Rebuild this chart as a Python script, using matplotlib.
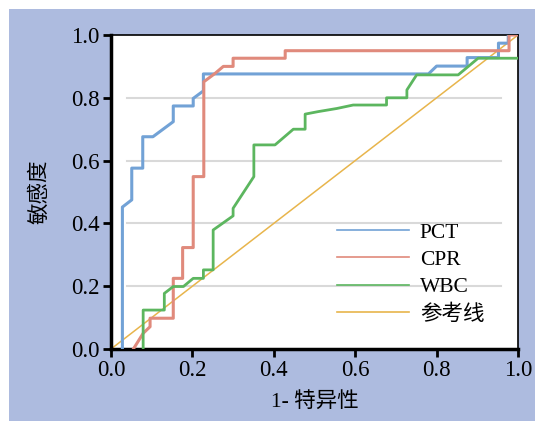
import matplotlib
matplotlib.use('Agg')
import matplotlib.pyplot as plt
from matplotlib.patches import Rectangle

plt.rcParams['font.family'] = ['Liberation Serif', 'Noto Sans CJK SC', 'DejaVu Sans']

# ROC curves (1-specificity, sensitivity)
pct_x = [0.028, 0.028, 0.051, 0.051, 0.078, 0.078, 0.103, 0.153, 0.153, 0.202, 0.202,
         0.227, 0.227, 0.78, 0.80, 0.875, 0.875, 0.952, 0.952, 0.976, 0.976]
pct_y = [0.0, 0.452, 0.475, 0.576, 0.576, 0.676, 0.676, 0.724, 0.774, 0.774, 0.798,
         0.822, 0.876, 0.876, 0.901, 0.901, 0.928, 0.928, 0.974, 0.974, 1.0]

cpr_x = [0.055, 0.079, 0.096, 0.096, 0.153, 0.153, 0.176, 0.176, 0.202, 0.202, 0.228,
         0.228, 0.256, 0.276, 0.30, 0.30, 0.428, 0.428, 0.978, 0.978, 1.0]
cpr_y = [0.0, 0.05, 0.071, 0.098, 0.098, 0.225, 0.225, 0.323, 0.323, 0.549, 0.549,
         0.851, 0.878, 0.90, 0.90, 0.926, 0.926, 0.95, 0.95, 1.0, 1.0]

wbc_x = [0.079, 0.079, 0.131, 0.131, 0.153, 0.178, 0.202, 0.227, 0.227, 0.251, 0.251,
         0.30, 0.30, 0.351, 0.351, 0.403, 0.448, 0.477, 0.477, 0.509, 0.555, 0.595,
         0.677, 0.677, 0.727, 0.727, 0.751, 0.853, 0.878, 0.902, 1.0]
wbc_y = [0.0, 0.124, 0.124, 0.177, 0.199, 0.199, 0.225, 0.225, 0.252, 0.252, 0.379,
         0.424, 0.448, 0.549, 0.65, 0.65, 0.70, 0.70, 0.748, 0.756, 0.766, 0.777,
         0.777, 0.80, 0.80, 0.825, 0.873, 0.873, 0.90, 0.926, 0.926]

ref_x = [0.0, 1.0]
ref_y = [0.0, 1.0]

ticks = [0.0, 0.2, 0.4, 0.6, 0.8, 1.0]
tick_labels = ['0.0', '0.2', '0.4', '0.6', '0.8', '1.0']

fig = plt.figure(figsize=(5.35, 4.21), dpi=100, facecolor='white')
bg = Rectangle((9 / 535, 0), 1, 1 - 9 / 421, transform=fig.transFigure,
               facecolor='#adbbdf', edgecolor='none', zorder=-10)
fig.add_artist(bg)

ax = fig.add_axes([111 / 535, 72 / 421, 407 / 535, 314 / 421])
ax.set_zorder(5)
ax.set_facecolor('white')

for g in [0.2, 0.4, 0.6, 0.8]:
    ax.plot([0.039, 0.958], [g, g], color='#d9d9d9', lw=1.5, zorder=1)

ax.plot(pct_x, pct_y, color='#72a2d6', lw=2.2, zorder=3)
ax.plot(cpr_x, cpr_y, color='#e08a7c', lw=2.2, zorder=3)
ax.plot(wbc_x, wbc_y, color='#5cb65f', lw=2.0, zorder=3)
ax.plot(ref_x, ref_y, color='#e8b54c', lw=1.1, zorder=2)

# legend handles (thin lines)
h1, = ax.plot([], [], color='#72a2d6', lw=1.2, label='PCT')
h2, = ax.plot([], [], color='#e08a7c', lw=1.2, label='CPR')
h3, = ax.plot([], [], color='#5cb65f', lw=1.2, label='WBC')
h4, = ax.plot([], [], color='#e8b54c', lw=1.2, label='参考线')
ax.legend(handles=[h1, h2, h3, h4], loc='center left', bbox_to_anchor=(0.555, 0.24),
          frameon=False, fontsize=15.5, handlelength=3.35, labelspacing=0.33,
          handletextpad=0.5, borderaxespad=0, borderpad=0)

ax.set_xlim(0, 1)
ax.set_ylim(0, 1)
ax.set_xticks(ticks)
ax.set_xticklabels(tick_labels)
ax.set_yticks(ticks)
ax.set_yticklabels(tick_labels)
ax.tick_params(direction='out', length=6, width=2, labelsize=16.5, pad=2, color='black')

for s in ['left', 'bottom']:
    ax.spines[s].set_linewidth(2.5)
for s in ['top', 'right']:
    ax.spines[s].set_linewidth(1.2)

ax.set_xlabel('1- 特异性', fontsize=15.5, labelpad=8)
ax.set_ylabel('敏感度', fontsize=15.5, labelpad=15)

fig.savefig('out.png', dpi=100, facecolor=fig.get_facecolor())
